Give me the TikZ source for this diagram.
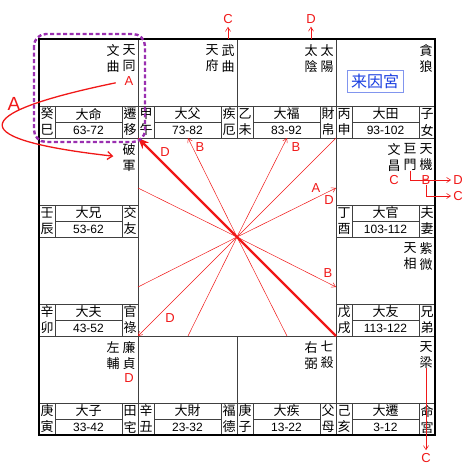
\documentclass[tikz,border=0pt]{standalone}
\usepackage{fontspec}
\setmainfont{Liberation Sans}
\newfontfamily\cjk{Noto Sans CJK TC}
\usepackage{tikz}
\usetikzlibrary{arrows.meta,positioning}
\definecolor{hua}{HTML}{F01818}
\definecolor{lilac}{HTML}{9A2FB0}
\definecolor{laiyin}{HTML}{1A3FE0}
% one palace: left, top, stem, branch, decade, ages, name (2 chars), id
\newcommand{\palace}[9]{%
  \draw[palline] (#1,#2+67) -- (#1+99,#2+67);
  \draw[palline] (#1+16,#2+67) -- (#1+16,#2+99);
  \draw[palline] (#1+83,#2+67) -- (#1+83,#2+99);
  \draw[palline] (#1+16,#2+83) -- (#1+83,#2+83);
  \node[gong] (#9-s) at (#1+8,#2+75) {#3};
  \node[gong] (#9-b) at (#1+8,#2+91) {#4};
  \node[gong] (#9-n) at (#1+49.5,#2+75) {#5};
  \node[nian] (#9-a) at (#1+49.5,#2+91) {#6};
  \node[gong] (#9-p) at (#1+91,#2+75) {#7};
  \node[gong] (#9-q) at (#1+91,#2+91) {#8};
}

\begin{document}
\begin{tikzpicture}
  [
    x=1pt, y=-1pt,
    palline/.style={draw=black!75, line width=0.8pt},
    outerline/.style={draw=black, line width=2pt},
    xing/.style={font={\cjk\fontsize{13}{16}\selectfont}, align=center, anchor=north, inner sep=0pt},
    gong/.style={font={\cjk\fontsize{13}{13}\selectfont}, inner sep=0pt},
    nian/.style={font={\fontsize{12}{12}\selectfont}, inner sep=0pt},
    hua/.style={text=hua, font={\fontsize{13}{13}\selectfont}, inner sep=0pt},
    hualine/.style={draw=hua, line width=0.6pt, -{Straight Barb[length=4pt,width=5pt]}},
    ray/.style={draw=hua, line width=0.5pt},
    raytip/.style={ray, -{Straight Barb[length=4pt,width=5pt]}},
    bigray/.style={draw=hua, line width=2.4pt, -{Stealth[length=11pt,width=9pt]}},
    hilite/.style={draw=lilac, line width=2.4pt, dash pattern=on 4pt off 2.5pt, rounded corners=12pt}
  ]
  \useasboundingbox (0,0) rectangle (474,474);
  % Grid
  \draw[palline] (138,39) -- (138,435);
  \draw[palline] (336,39) -- (336,435);
  \draw[palline] (39,138) -- (435,138);
  \draw[palline] (39,336) -- (435,336);
  \draw[palline] (237,39) -- (237,138);
  \draw[palline] (237,336) -- (237,435);
  \draw[palline] (39,237) -- (138,237);
  \draw[palline] (336,237) -- (435,237);
  % Palaces
  \palace{39}{39}{癸}{巳}{大命}{63-72}{遷}{移}{si}
  \palace{138}{39}{甲}{午}{大父}{73-82}{疾}{厄}{wu}
  \palace{237}{39}{乙}{未}{大福}{83-92}{財}{帛}{wei}
  \palace{336}{39}{丙}{申}{大田}{93-102}{子}{女}{shen}
  \palace{336}{138}{丁}{酉}{大官}{103-112}{夫}{妻}{you}
  \palace{336}{237}{戊}{戌}{大友}{113-122}{兄}{弟}{xu}
  \palace{336}{336}{己}{亥}{大遷}{3-12}{命}{宮}{hai}
  \palace{237}{336}{庚}{子}{大疾}{13-22}{父}{母}{zi}
  \palace{138}{336}{辛}{丑}{大財}{23-32}{福}{德}{chou}
  \palace{39}{336}{庚}{寅}{大子}{33-42}{田}{宅}{yin}
  \palace{39}{237}{辛}{卯}{大夫}{43-52}{官}{祿}{mao}
  \palace{39}{138}{壬}{辰}{大兄}{53-62}{交}{友}{chen}
  \draw[outerline] (39,39) rectangle (435,435);
  % Stars
  \node[xing] (tiantong) at (129,44) {天\\同};
  \node[xing] (wenqu) at (113,44) {文\\曲};
  \node[xing] (wuqu) at (228,44) {武\\曲};
  \node[xing] (tianfu) at (212,44) {天\\府};
  \node[xing] (taiyang) at (327,44) {太\\陽};
  \node[xing] (taiyin) at (311,44) {太\\陰};
  \node[xing] (tanlang) at (426,44) {貪\\狼};
  \node[xing] (tianji) at (426,143) {天\\機};
  \node[xing] (jumen) at (410,143) {巨\\門};
  \node[xing] (wenchang) at (394,143) {文\\昌};
  \node[xing] (ziwei) at (426,242) {紫\\微};
  \node[xing] (tianxiang) at (410,242) {天\\相};
  \node[xing] (tianliang) at (426,341) {天\\梁};
  \node[xing] (qisha) at (327,341) {七\\殺};
  \node[xing] (youbi) at (311,341) {右\\弼};
  \node[xing] (lianzhen) at (129,341) {廉\\貞};
  \node[xing] (zuofu) at (113,341) {左\\輔};
  \node[xing] (pojun) at (129,143) {破\\軍};
  \node[draw=laiyin!55, line width=0.8pt, text=laiyin, font={\cjk\fontsize{16}{16}\selectfont},
    minimum width=56pt, minimum height=22pt, inner sep=0pt] (laiyin) at (375,81) {来因宮};
  % Transformations
  \node[hua] (hua-a1) at (129,81) {A};
  \node[hua] (hua-c1) at (228,19) {C};
  \node[hua] (hua-d1) at (311,19) {D};
  \node[hua] (hua-c2) at (394,180) {C};
  \node[hua] (hua-b1) at (426,180) {B};
  \node[hua] (hua-d2) at (458,180) {D};
  \node[hua] (hua-c3) at (458,196) {C};
  \node[hua] (hua-c4) at (426,458) {C};
  \node[hua] (hua-d3) at (129,378) {D};
  \node[hua, font={\fontsize{19}{19}\selectfont}] (hua-big) at (14,104) {A};
  \draw[hualine, shorten <=5pt, shorten >=3pt] (wuqu.north) -- (hua-c1.south);
  \draw[hualine, shorten <=5pt, shorten >=3pt] (taiyin.north) -- (hua-d1.south);
  \draw[hualine, shorten >=2pt] (jumen.south) |- (hua-d2.west);
  \draw[hualine, shorten >=2pt] (hua-b1.south) |- (hua-c3.west);
  \draw[hualine, shorten >=3pt] (tianliang.south) -- (hua-c4.north);
  \draw[draw=hua, line width=1.3pt, -{Straight Barb[length=5pt,width=8pt]}, shorten <=9pt, shorten >=9pt]
    (hua-a1.west) .. controls (-40,115) and (-30,140) .. (pojun.west);
  % Center lines
  \coordinate (ctr) at (237,237);
  \coordinate (nw) at (138,138);
  \coordinate (ne) at (336,138);
  \coordinate (sw) at (138,336);
  \coordinate (se) at (336,336);
  \coordinate (n1) at (188,138);
  \coordinate (n2) at (287,138);
  \coordinate (e1) at (336,188);
  \coordinate (e2) at (336,287);
  \coordinate (s1) at (287,336);
  \coordinate (s2) at (188,336);
  \coordinate (w1) at (138,287);
  \coordinate (w2) at (138,188);
  \draw[raytip] (ctr) -- (n1);
  \draw[raytip] (ctr) -- (n2);
  \draw[ray] (ctr) -- (ne);
  \draw[raytip] (ctr) -- (e1);
  \draw[raytip] (ctr) -- (e2);
  \draw[ray] (ctr) -- (s1);
  \draw[ray] (ctr) -- (s2);
  \draw[raytip] (ctr) -- (sw);
  \draw[ray] (ctr) -- (w1);
  \draw[ray] (ctr) -- (w2);
  \draw[bigray] (se) -- (nw);
  \node[hua] (ray-n1) at (200,147) {B};
  \node[hua] (ray-n2) at (296,147) {B};
  \node[hua] (ray-e1a) at (316,188) {A};
  \node[hua] (ray-e1d) at (329,200) {D};
  \node[hua] (ray-e2) at (328,273) {B};
  \node[hua] (ray-sw) at (170,318) {D};
  \node[hua] (ray-nw) at (165,152) {D};
  % Highlight
  \draw[hilite] (34,34) rectangle (145,142);
\end{tikzpicture}
\end{document}
